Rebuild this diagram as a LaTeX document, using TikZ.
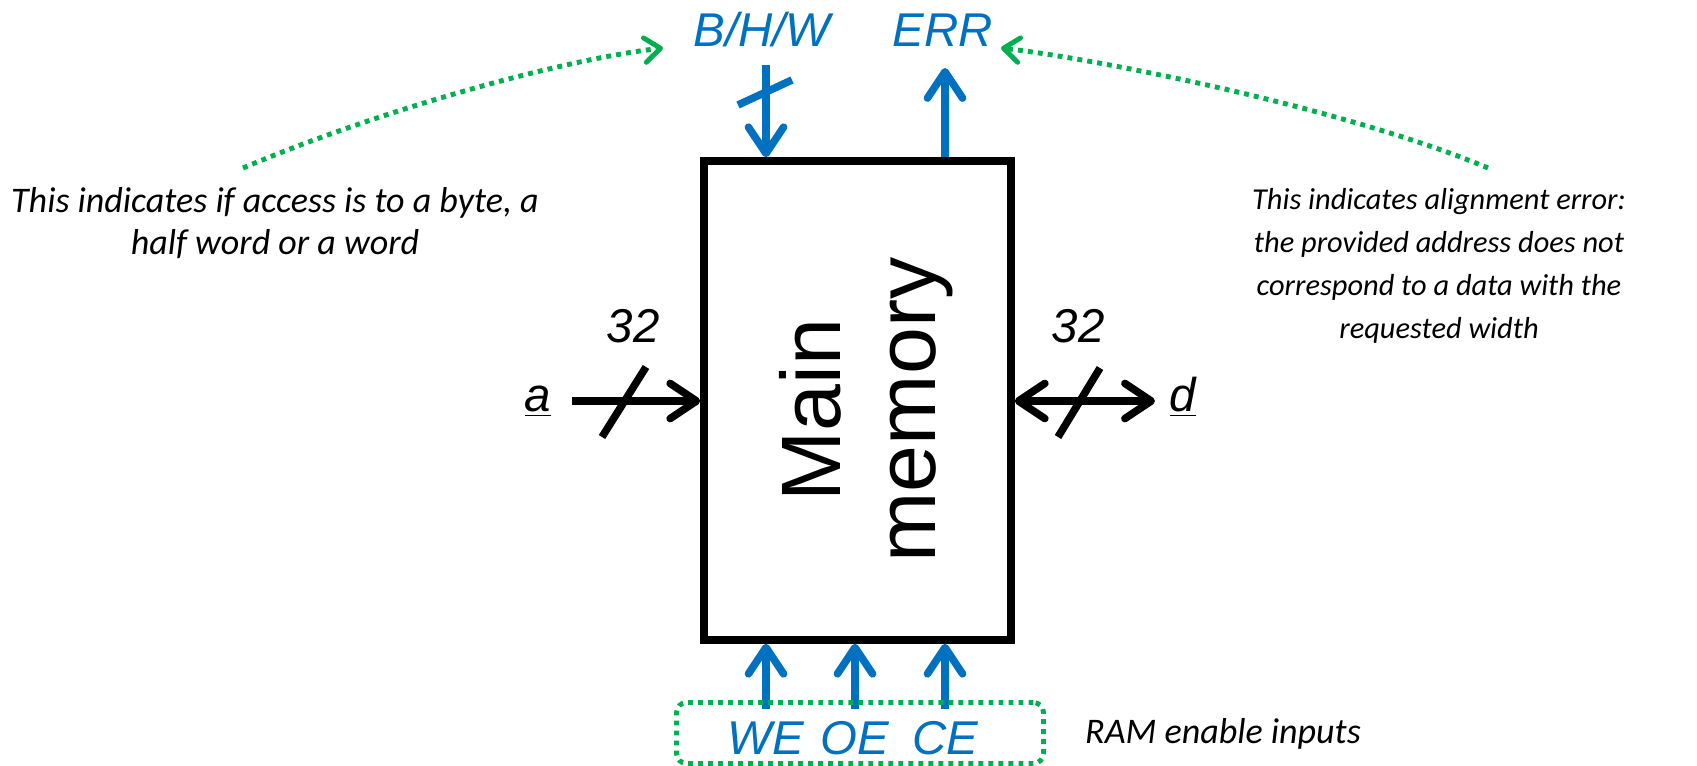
\documentclass[tikz,border=0pt]{standalone}
\usepackage{fontspec}
\setmainfont{Liberation Sans}
\newfontfamily\notefont{Carlito}
\usetikzlibrary{arrows.meta,positioning,calc}
\definecolor{sigblue}{HTML}{0070C0}
\definecolor{notegreen}{HTML}{00B050}
\tikzset{
  >={Straight Barb[round, length=15pt, width=20pt]},
  bus/.style={line width=4.3pt, draw=black},
  ctrl/.style={line width=4.3pt, draw=sigblue},
  remark/.style={line width=2.8pt, draw=notegreen, dash pattern=on 2.8pt off 2.9pt,
                 -{Straight Barb[round, length=9pt, width=14pt]}},
  encl/.style={draw=notegreen, line width=2.8pt, dash pattern=on 2.8pt off 2.9pt,
               rounded corners=0.2cm},
  lbl/.style={font=\fontsize{27}{32}\selectfont\itshape, inner sep=0pt},
  note/.style={font=\notefont\fontsize{20.5}{24}\selectfont\itshape, align=center},
}

\begin{document}
\begin{tikzpicture}[x=0.02cm, y=-0.02cm]
  \useasboundingbox (0,0) rectangle (1697,766);

  % memory block
  \node[draw, line width=4.3pt, minimum width=6.14cm, minimum height=9.58cm, inner sep=0pt] (mem) at (857.5,400.5) {};
  \node[rotate=90, align=center, font=\fontsize{48}{54}\selectfont] (memtxt) at (866,410) {Main\\memory};

  % width select and error flag
  \node[lbl, text=sigblue] (bhw) at (762,30) {B/H/W};
  \node[lbl, text=sigblue] (err) at (943,30) {ERR};
  \coordinate (bhwin) at (766,65);
  \coordinate (errout) at (945,68);
  \draw[ctrl, ->] (bhwin) -- (bhwin |- mem.north);
  \draw[ctrl] (bhwin) ++(-28,40) -- ++(54,-25);
  \draw[ctrl, ->] (errout |- mem.north) -- (errout);

  % address and data buses
  \node[lbl, anchor=base] (alab) at (538,412) {\underline{a}};
  \node[lbl] (awidth) at (633,326) {32};
  \coordinate (ain) at (572,401);
  \draw[bus, ->] (ain) -- (ain -| mem.west);
  \draw[bus] (ain) ++(30,36) -- ++(44,-70);

  \node[lbl, anchor=base] (dlab) at (1183,412) {\underline{d}};
  \node[lbl] (dwidth) at (1078,326) {32};
  \coordinate (dout) at (1155,401);
  \draw[bus, <->] (dout -| mem.east) -- (dout);
  \draw[bus] (dout) ++(-97,36) -- ++(42,-69);

  % enable inputs
  \foreach \x/\sig in {766/WE, 855/OE, 945/CE} {
    \node[lbl, text=sigblue] (\sig) at (\x,738) {\sig};
    \draw[ctrl, ->] (\sig.north) ++(0,-12) -- (\sig.north |- mem.south);
  }
  \node[encl, minimum width=7.34cm, minimum height=1.22cm] (enbox) at (860,733) {};
  \node[note] (ramnote) at (1223,734) {RAM enable inputs};

  % remarks
  \node[note] (bhwnote) at (275,223) {This indicates if access is to a byte, a\\half word or a word};
  \node[note, font=\notefont\fontsize{17.3}{24.5}\selectfont\itshape] (errnote) at (1439,266)
    {This indicates alignment error:\\the provided address does not\\correspond to a data with the\\requested width};
  \coordinate (bhwfrom) at (243,168);
  \coordinate (bhwto) at (663,48);
  \coordinate (errfrom) at (1488,168);
  \coordinate (errto) at (1001,48);
  \draw[remark] (bhwfrom) .. controls (380,110) and (560,60) .. (bhwto);
  \draw[remark] (errfrom) .. controls (1350,110) and (1105,60) .. (errto);
\end{tikzpicture}
\end{document}
